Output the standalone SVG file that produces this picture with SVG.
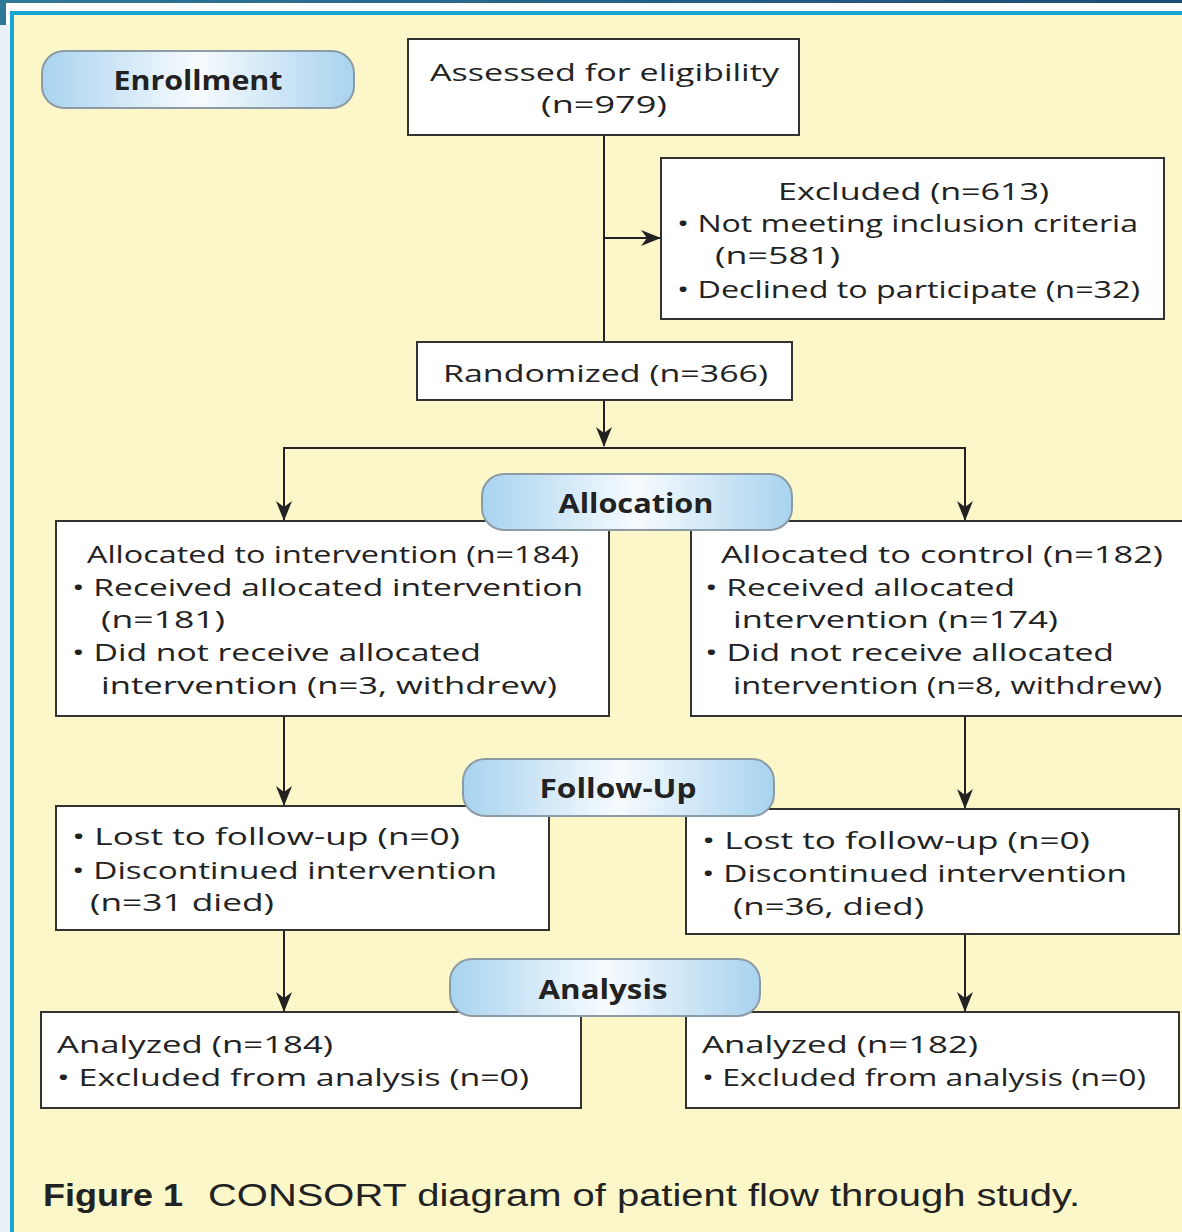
<svg xmlns="http://www.w3.org/2000/svg" width="1182" height="1232" viewBox="0 0 1182 1232">
  <defs>
    <linearGradient id="pillFill" x1="0" y1="0" x2="1" y2="0">
      <stop offset="0" stop-color="#a8d3ef"/>
      <stop offset="0.5" stop-color="#f7fbfe"/>
      <stop offset="1" stop-color="#a8d3ef"/>
    </linearGradient>
    <linearGradient id="topBar" x1="0" y1="0" x2="1" y2="0">
      <stop offset="0" stop-color="#2f7896"/>
      <stop offset="1" stop-color="#1c4d74"/>
    </linearGradient>
    <marker id="arrow" viewBox="0 0 20 16" refX="19" refY="8" markerWidth="20" markerHeight="16" markerUnits="userSpaceOnUse" orient="auto">
      <path d="M0,0 L20,8 L0,16 L6,8 z" fill="#222"/>
    </marker>
    <style>
      .box { fill: #ffffff; stroke: #333333; stroke-width: 2; }
      .pill { fill: url(#pillFill); stroke: #8c9ba6; stroke-width: 2; }
      .t { font-family: "Open Sans", "Noto Sans", "DejaVu Sans", sans-serif; font-size: 24px; font-weight: 500; fill: #222222; }
      .pt { font-family: "Open Sans", "Noto Sans", "DejaVu Sans", sans-serif; font-size: 26px; font-weight: bold; fill: #222222; text-anchor: middle; }
      .cap { font-family: "Liberation Sans", Arial, sans-serif; font-size: 31px; fill: #222222; }
      .wire { fill: none; stroke: #222222; stroke-width: 2; }
    </style>
  </defs>

  <!-- page frame -->
  <rect x="0" y="0" width="1182" height="1232" fill="#ffffff"/>
  <rect x="0" y="0" width="1182" height="3" fill="url(#topBar)"/>
  <rect x="0" y="25" width="10" height="1207" fill="#e9f1f7"/>
  <rect x="0" y="0" width="6" height="25" fill="#2f7896"/>
  <rect x="10" y="11" width="1172" height="1221" fill="#1ba5d5"/>
  <rect x="14" y="15" width="1168" height="1217" fill="#fbf7c9"/>

  <!-- connectors -->
  <g id="connectors">
    <line class="wire" x1="604" y1="135" x2="604" y2="342"/>
    <line class="wire" x1="604" y1="238" x2="660" y2="238" marker-end="url(#arrow)"/>
    <line class="wire" x1="604" y1="400" x2="604" y2="446" marker-end="url(#arrow)"/>
    <polyline class="wire" points="284,520 284,448 965,448 965,520"/>
    <line class="wire" x1="284" y1="460" x2="284" y2="520" marker-end="url(#arrow)"/>
    <line class="wire" x1="965" y1="460" x2="965" y2="520" marker-end="url(#arrow)"/>
    <line class="wire" x1="284" y1="716" x2="284" y2="805" marker-end="url(#arrow)"/>
    <line class="wire" x1="965" y1="716" x2="965" y2="808" marker-end="url(#arrow)"/>
    <line class="wire" x1="284" y1="930" x2="284" y2="1011" marker-end="url(#arrow)"/>
    <line class="wire" x1="965" y1="934" x2="965" y2="1011" marker-end="url(#arrow)"/>
  </g>

  <!-- stage labels -->
  <g id="stage-enrollment">
    <rect class="pill" x="42" y="51" width="312" height="57" rx="22"/>
    <text class="pt" x="198" y="90" textLength="169" lengthAdjust="spacingAndGlyphs">Enrollment</text>
  </g>

  <g id="assessed">
    <rect class="box" x="408" y="39" width="391" height="96"/>
    <text class="t" x="430" y="81" textLength="349" lengthAdjust="spacingAndGlyphs">Assessed for eligibility</text>
    <text class="t" x="541" y="113" textLength="126" lengthAdjust="spacingAndGlyphs">(n=979)</text>
  </g>

  <g id="excluded">
    <rect class="box" x="661" y="158" width="503" height="161"/>
    <text class="t" x="778" y="200" textLength="271" lengthAdjust="spacingAndGlyphs">Excluded (n=613)</text>
    <text class="t" x="677" y="232" textLength="461" lengthAdjust="spacingAndGlyphs">• Not meeting inclusion criteria</text>
    <text class="t" x="715" y="264" textLength="125" lengthAdjust="spacingAndGlyphs">(n=581)</text>
    <text class="t" x="677" y="298" textLength="463" lengthAdjust="spacingAndGlyphs">• Declined to participate (n=32)</text>
  </g>

  <g id="randomized">
    <rect class="box" x="417" y="342" width="375" height="58"/>
    <text class="t" x="443" y="382" textLength="325" lengthAdjust="spacingAndGlyphs">Randomized (n=366)</text>
  </g>

  <g id="alloc-intervention">
    <rect class="box" x="56" y="521" width="553" height="195"/>
    <text class="t" x="87" y="563" textLength="492" lengthAdjust="spacingAndGlyphs">Allocated to intervention (n=184)</text>
    <text class="t" x="72" y="596" textLength="511" lengthAdjust="spacingAndGlyphs">• Received allocated intervention</text>
    <text class="t" x="101" y="628" textLength="124" lengthAdjust="spacingAndGlyphs">(n=181)</text>
    <text class="t" x="72" y="661" textLength="409" lengthAdjust="spacingAndGlyphs">• Did not receive allocated</text>
    <text class="t" x="101" y="694" textLength="456" lengthAdjust="spacingAndGlyphs">intervention (n=3, withdrew)</text>
  </g>

  <g id="alloc-control">
    <rect class="box" x="691" y="521" width="500" height="195"/>
    <text class="t" x="721" y="563" textLength="442" lengthAdjust="spacingAndGlyphs">Allocated to control (n=182)</text>
    <text class="t" x="705" y="596" textLength="310" lengthAdjust="spacingAndGlyphs">• Received allocated</text>
    <text class="t" x="733" y="628" textLength="325" lengthAdjust="spacingAndGlyphs">intervention (n=174)</text>
    <text class="t" x="705" y="661" textLength="409" lengthAdjust="spacingAndGlyphs">• Did not receive allocated</text>
    <text class="t" x="733" y="694" textLength="429" lengthAdjust="spacingAndGlyphs">intervention (n=8, withdrew)</text>
  </g>

  <g id="stage-allocation">
    <rect class="pill" x="482" y="474" width="310" height="56" rx="22"/>
    <text class="pt" x="636" y="513" textLength="155" lengthAdjust="spacingAndGlyphs">Allocation</text>
  </g>

  <g id="followup-intervention">
    <rect class="box" x="56" y="806" width="493" height="124"/>
    <text class="t" x="72" y="845" textLength="388" lengthAdjust="spacingAndGlyphs">• Lost to follow-up (n=0)</text>
    <text class="t" x="72" y="879" textLength="425" lengthAdjust="spacingAndGlyphs">• Discontinued intervention</text>
    <text class="t" x="90" y="911" textLength="184" lengthAdjust="spacingAndGlyphs">(n=31 died)</text>
  </g>

  <g id="followup-control">
    <rect class="box" x="686" y="809" width="493" height="125"/>
    <text class="t" x="702" y="849" textLength="388" lengthAdjust="spacingAndGlyphs">• Lost to follow-up (n=0)</text>
    <text class="t" x="702" y="882" textLength="425" lengthAdjust="spacingAndGlyphs">• Discontinued intervention</text>
    <text class="t" x="733" y="915" textLength="191" lengthAdjust="spacingAndGlyphs">(n=36, died)</text>
  </g>

  <g id="stage-followup">
    <rect class="pill" x="463" y="759" width="311" height="57" rx="22"/>
    <text class="pt" x="618" y="798" textLength="157" lengthAdjust="spacingAndGlyphs">Follow-Up</text>
  </g>

  <g id="analysis-intervention">
    <rect class="box" x="41" y="1012" width="540" height="96"/>
    <text class="t" x="57" y="1053" textLength="276" lengthAdjust="spacingAndGlyphs">Analyzed (n=184)</text>
    <text class="t" x="57" y="1086" textLength="472" lengthAdjust="spacingAndGlyphs">• Excluded from analysis (n=0)</text>
  </g>

  <g id="analysis-control">
    <rect class="box" x="686" y="1012" width="493" height="96"/>
    <text class="t" x="702" y="1053" textLength="276" lengthAdjust="spacingAndGlyphs">Analyzed (n=182)</text>
    <text class="t" x="702" y="1086" textLength="444" lengthAdjust="spacingAndGlyphs">• Excluded from analysis (n=0)</text>
  </g>

  <g id="stage-analysis">
    <rect class="pill" x="450" y="959" width="310" height="57" rx="22"/>
    <text class="pt" x="603" y="999" textLength="129" lengthAdjust="spacingAndGlyphs">Analysis</text>
  </g>

  <!-- caption -->
  <g id="caption">
    <text class="cap" x="43" y="1206" font-weight="bold" textLength="140" lengthAdjust="spacingAndGlyphs">Figure 1</text>
    <text class="cap" x="208" y="1206" textLength="872" lengthAdjust="spacingAndGlyphs">CONSORT diagram of patient flow through study.</text>
  </g>
</svg>
